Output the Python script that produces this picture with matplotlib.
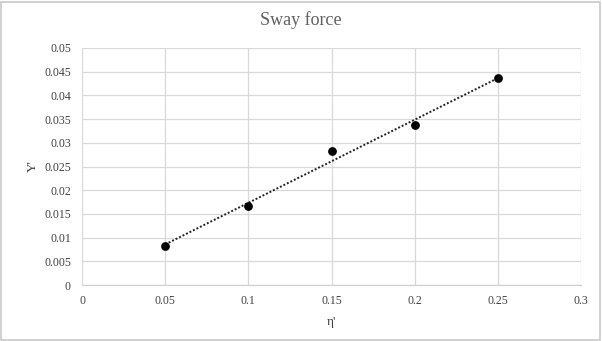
import numpy as np
import matplotlib
matplotlib.use("Agg")
import matplotlib.pyplot as plt
from matplotlib.patches import Rectangle

eta = [0.05, 0.10, 0.15, 0.20, 0.25]
Y = [0.0083, 0.0166, 0.0283, 0.0337, 0.0436]
xticks = [0, 0.05, 0.1, 0.15, 0.2, 0.25, 0.3]
xticklabels = ["0", "0.05", "0.1", "0.15", "0.2", "0.25", "0.3"]
yticks = [0, 0.005, 0.01, 0.015, 0.02, 0.025, 0.03, 0.035, 0.04, 0.045, 0.05]
yticklabels = ["0", "0.005", "0.01", "0.015", "0.02", "0.025", "0.03", "0.035", "0.04", "0.045", "0.05"]

plt.rcParams['font.family'] = ['Liberation Serif', 'DejaVu Serif']

fig = plt.figure(figsize=(6.02, 3.41), dpi=100)
ax = fig.add_axes([82/602, 1-285/341, (581-82)/602, (285-48)/341])

ax.set_xlim(0, 0.3)
ax.set_ylim(0, 0.05)
ax.set_xticks(xticks)
ax.set_xticklabels(xticklabels)
ax.set_yticks(yticks)
ax.set_yticklabels(yticklabels)
ax.tick_params(length=0, labelsize=8.5, colors='#404040')
ax.tick_params(axis='x', pad=7)
ax.tick_params(axis='y', pad=8)
ax.grid(True, color='#d9d9d9', linewidth=0.9)
ax.set_axisbelow(True)
for s in ['top', 'right', 'left']:
    ax.spines[s].set_visible(False)
ax.spines['bottom'].set_color('#d0d0d0')

# linear trendline
p = np.polyfit(eta, Y, 1)
xs = np.array([min(eta), max(eta)])
ax.plot(xs, np.polyval(p, xs), linestyle=(0, (1, 1)), color='#222222', linewidth=1.4, zorder=2)
ax.scatter(eta, Y, s=28, color='black', zorder=3)

ax.set_xlabel("η'", fontsize=9.5, color='#404040', labelpad=7)
ax.set_ylabel("Y'", fontsize=9.5, color='#404040', labelpad=4)
fig.text(0.5, 1-20/341, "Sway force", ha='center', va='center', fontsize=13, color='#606060')

fig.patches.append(Rectangle((0.002, 0.004), 0.994, 0.99, transform=fig.transFigure,
                             fill=False, edgecolor='#c8c8c8', linewidth=1.2))

fig.savefig("out.png", dpi=100)
